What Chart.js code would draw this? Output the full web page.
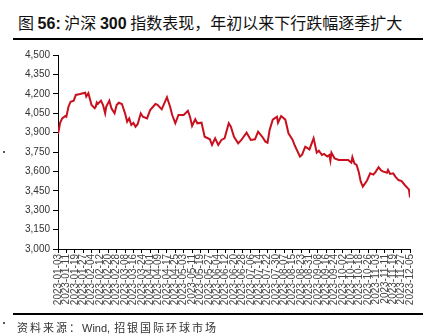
<!DOCTYPE html>
<html>
<head>
<meta charset="utf-8">
<script src="https://cdn.jsdelivr.net/npm/chart.js@4.4.1/dist/chart.umd.min.js"></script>
<style>
  body { margin: 0; background: #fff; }
  #wrap { position: relative; width: 439px; height: 335px; overflow: hidden; background: #fff; }
  #chart { position: absolute; left: 0; top: 0; }
  #title {
    position: absolute; left: 18px; top: 13px; white-space: nowrap;
    font-family: "Noto Sans CJK SC", sans-serif; font-size: 16px; line-height: 18px; color: #111;
  }
  #title b { font-family: "Liberation Sans", Arial, sans-serif; font-weight: bold; }
  .rule { position: absolute; left: 13px; width: 410px; height: 2px; background: #000; }
  #source {
    position: absolute; left: 17px; top: 321px; white-space: nowrap;
    font-family: "Noto Sans CJK SC", sans-serif; font-size: 11px; line-height: 13px; color: #333;
    letter-spacing: 2px;
  }
  #source span { font-family: "Liberation Sans", Arial, sans-serif; letter-spacing: 0; margin-right: 4px; }
  .dot { position: absolute; width: 2px; height: 2px; background: #555; }
</style>
</head>
<body>
<div id="wrap">
  <div id="title">图 <b>56:</b> 沪深 <b>300</b> 指数表现，年初以来下行跌幅逐季扩大</div>
  <div class="rule" style="top:38px"></div>
  <canvas id="chart" width="439" height="335"></canvas>
  <div class="rule" style="top:313px"></div>
  <div id="source">资料来源：<span>Wind,</span>招银国际环球市场</div>
  <div class="dot" style="left:3px; top:151px"></div>
  <div class="dot" style="left:3px; top:322px"></div>
</div>
<script>
// CSI 300 close, 2023 (MM-DD)
const dates = [
  '01-03', '01-04', '01-05', '01-07', '01-10', '01-11', '01-13', '01-15', '01-18', '01-20',
  '01-24', '01-29', '01-30', '02-01', '02-04', '02-07', '02-08', '02-09', '02-10', '02-13',
  '02-15', '02-17', '02-18', '02-21', '02-23', '02-26', '02-28', '03-02', '03-05', '03-08',
  '03-10', '03-12', '03-14', '03-16', '03-18', '03-20', '03-23', '03-25', '03-29', '04-01',
  '04-06', '04-08', '04-12', '04-17', '04-20', '04-22', '04-25', '04-28', '05-03', '05-07',
  '05-09', '05-11', '05-14', '05-16', '05-20', '05-23', '05-28', '05-30', '06-02', '06-05',
  '06-08', '06-11', '06-15', '06-17', '06-20', '06-24', '06-27', '07-02', '07-06', '07-10',
  '07-13', '07-17', '07-20', '07-22', '07-24', '07-27', '07-31', '08-01', '08-04', '08-08',
  '08-11', '08-15', '08-17', '08-22', '08-24', '08-27', '08-31', '09-04', '09-07', '09-09',
  '09-12', '09-14', '09-17', '09-19', '09-20', '09-21', '09-24', '09-28', '10-07', '10-10',
  '10-11', '10-13', '10-15', '10-17', '10-19', '10-21', '10-25', '10-28', '10-31', '11-02',
  '11-05', '11-07', '11-09', '11-13', '11-14', '11-16', '11-19', '11-21', '11-24', '11-27',
  '11-30', '12-03', '12-04', '12-05'
];
const closes = [
  3888, 3930, 3975, 4010, 4028, 4023, 4100, 4139, 4147, 4191,
  4198, 4208, 4178, 4204, 4113, 4088, 4100, 4132, 4121, 4147,
  4113, 4049, 4100, 4147, 4088, 4049, 4113, 4131, 4121, 4049,
  3984, 4010, 3959, 3975, 3946, 3965, 4049, 4023, 4010, 4075,
  4121, 4115, 4080, 4173, 4100, 4036, 3972, 4036, 4036, 4069,
  4023, 3951, 4003, 3972, 3977, 3868, 3848, 3804, 3856, 3804,
  3843, 3856, 3972, 3946, 3868, 3817, 3843, 3900, 3843, 3848,
  3907, 3868, 3830, 3822, 3920, 4000, 4023, 3977, 4028, 4000,
  3895, 3843, 3800, 3714, 3730, 3791, 3770, 3856, 3745, 3760,
  3727, 3735, 3715, 3727, 3683, 3745, 3701, 3688, 3688, 3667,
  3709, 3660, 3650, 3598, 3521, 3482, 3530, 3585, 3575, 3595,
  3632, 3611, 3600, 3590, 3611, 3580, 3585, 3560, 3533, 3525,
  3495, 3469, 3460, 3398
];

const year = 2023;
const startDay = Date.UTC(year, 0, 3);
const endDay = Date.UTC(year, 11, 5);
const tickStepDays = 8;
const DAY = 86400000;

function dayOffset(md) {
  const [m, d] = md.split('-').map(Number);
  return Math.round((Date.UTC(year, m - 1, d) - startDay) / DAY);
}

function dayLabel(offset) {
  const dt = new Date(startDay + offset * DAY);
  const mm = String(dt.getUTCMonth() + 1).padStart(2, '0');
  const dd = String(dt.getUTCDate()).padStart(2, '0');
  return `${dt.getUTCFullYear()}-${mm}-${dd}`;
}

const points = dates.map((md, i) => ({ x: dayOffset(md), y: closes[i] }));

Chart.defaults.font.family = '"Liberation Sans", Arial, sans-serif';
Chart.defaults.color = '#333';

new Chart(document.getElementById('chart'), {
  type: 'line',
  data: {
    datasets: [{
      label: '沪深300',
      data: points,
      borderColor: '#C8101E',
      borderWidth: 2,
      pointRadius: 0,
      tension: 0,
      fill: false,
    }],
  },
  options: {
    responsive: false,
    animation: false,
    layout: { padding: { left: 0, top: 55, right: 29, bottom: 26 } },
    plugins: { legend: { display: false }, tooltip: { enabled: false } },
    scales: {
      x: {
        type: 'linear',
        min: 0,
        max: Math.round((endDay - startDay) / DAY),
        afterFit: (scale) => { scale.height = 60; },
        border: { color: '#000', width: 1 },
        grid: { display: true, drawOnChartArea: false, drawTicks: true, tickLength: 4, color: '#000' },
        ticks: {
          stepSize: tickStepDays,
          autoSkip: false,
          minRotation: 90,
          maxRotation: 90,
          padding: 1,
          color: '#444',
          font: { size: 10 },
          callback: (v) => dayLabel(v),
        },
      },
      y: {
        min: 3000,
        max: 4500,
        afterFit: (scale) => { scale.width = 58; },
        border: { color: '#000', width: 1 },
        grid: { display: true, drawOnChartArea: false, drawTicks: true, tickLength: 5, color: '#000' },
        ticks: {
          stepSize: 150,
          padding: 3,
          color: '#333',
          font: { size: 10 },
          callback: (v) => v.toLocaleString('en-US'),
        },
      },
    },
  },
});
</script>
</body>
</html>
